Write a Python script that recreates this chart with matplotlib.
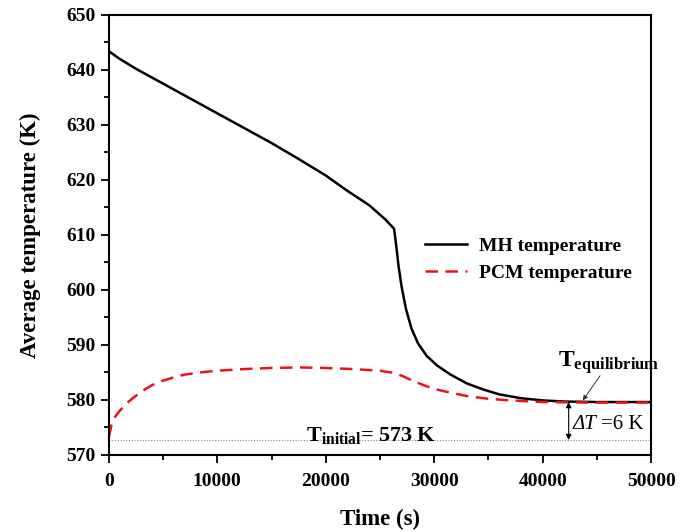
import matplotlib
matplotlib.use("Agg")
import matplotlib.pyplot as plt
from matplotlib.ticker import MultipleLocator

plt.rcParams['font.family'] = ['Liberation Serif', 'DejaVu Serif']
plt.rcParams['font.weight'] = 'bold'
plt.rcParams['mathtext.fontset'] = 'custom'
plt.rcParams['mathtext.rm'] = 'Liberation Serif'
plt.rcParams['mathtext.bf'] = 'Liberation Serif:bold'

# MH temperature (s, K)
mh_time = [0, 1000, 2500, 5000, 7500, 10000, 12500, 15000, 17500, 20000, 22000,
           24000, 25500, 26300, 26500, 26700, 27000, 27400, 27900, 28500, 29300,
           30300, 31500, 33000, 34500, 36000, 38000, 40000, 42000, 45000, 50000]
mh_temp = [643.4, 642.0, 640.2, 637.5, 634.8, 632.1, 629.4, 626.7, 623.8, 620.8, 618.0,
           615.4, 612.8, 611.1, 608.0, 604.5, 600.5, 596.5, 593.0, 590.3, 588.0,
           586.2, 584.6, 583.0, 581.9, 581.0, 580.3, 579.9, 579.7, 579.6, 579.6]

# PCM temperature (s, K)
pcm_time = [0, 250, 600, 1000, 1600, 2200, 3000, 4000, 5000, 6000, 7000, 8500,
            10000, 12500, 15000, 17500, 20000, 22500, 25000, 26000, 27000, 28000,
            29000, 30000, 31500, 33000, 35000, 37000, 40000, 45000, 50000]
pcm_temp = [573.3, 575.5, 577.0, 578.0, 579.3, 580.3, 581.5, 582.7, 583.5, 584.1, 584.6, 585.0,
            585.3, 585.6, 585.8, 585.9, 585.8, 585.6, 585.3, 585.0, 584.4, 583.5,
            582.7, 582.0, 581.3, 580.7, 580.2, 579.9, 579.6, 579.5, 579.5]

t_initial = 572.7
t_equil = 579.6
dt_time = 42400

fig = plt.figure(figsize=(6.89, 5.32), dpi=100)
ax = fig.add_axes([0.158, 0.145, 0.787, 0.827])

ax.plot(mh_time, mh_temp, color='black', lw=1.8, label='MH temperature')
ax.plot(pcm_time, pcm_temp, color='#e8141c', lw=1.8, dashes=(5, 3),
        label='PCM temperature')
ax.axhline(t_initial, color='#888888', lw=0.8, ls=(0, (1, 1.5)))

ax.set_xlim(0, 50000)
ax.set_ylim(570, 650)
ax.xaxis.set_major_locator(MultipleLocator(10000))
ax.xaxis.set_minor_locator(MultipleLocator(5000))
ax.yaxis.set_major_locator(MultipleLocator(10))
ax.yaxis.set_minor_locator(MultipleLocator(5))
ax.tick_params(which='both', direction='out', top=False, right=False, width=1.3)
ax.tick_params(which='major', length=6, labelsize=14)
ax.tick_params(axis='x', which='major', pad=7)
ax.tick_params(which='minor', length=3.5)
for s in ax.spines.values():
    s.set_linewidth(1.5)

ax.set_xlabel('Time (s)', fontsize=16.5, fontweight='bold', labelpad=14)
ax.set_ylabel('Average temperature (K)', fontsize=16.5, fontweight='bold', labelpad=18)

leg = ax.legend(loc='upper left', bbox_to_anchor=(0.55, 0.535), frameon=False,
                prop={'size': 14, 'weight': 'bold'}, handlelength=2.2,
                handletextpad=0.6, labelspacing=0.5)

# annotations
ax.annotate('', xy=(dt_time, t_initial), xytext=(dt_time, t_equil),
            arrowprops=dict(arrowstyle='<|-|>', color='black', lw=0.8,
                            mutation_scale=8, shrinkA=0, shrinkB=0))
ax.text(dt_time + 400, 575.6, '\u0394T', fontsize=15, fontweight='normal',
        fontstyle='italic', va='center', ha='left')
ax.text(dt_time + 3000, 575.6, '=6 K', fontsize=15, fontweight='normal',
        va='center', ha='left')
ax.text(41400, 586.0, r'$\mathbf{T_{equilibrium}}$', fontsize=17, va='baseline', ha='left')
ax.annotate('', xy=(43700, 579.9), xytext=(45300, 584.4),
            arrowprops=dict(arrowstyle='-|>', color='#333333', lw=0.7,
                            mutation_scale=7, shrinkA=0, shrinkB=0))
ax.text(24200, 572.6, r'$\mathbf{T_{initial}}$= 573 K', fontsize=16,
        va='baseline', ha='center')

fig.savefig('out.png', dpi=100)
